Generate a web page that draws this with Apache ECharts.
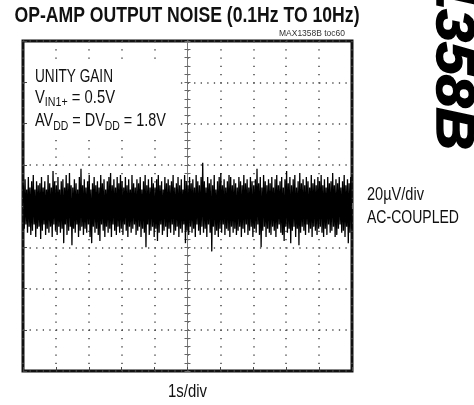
<!DOCTYPE html>
<html>
<head>
<meta charset="utf-8">
<script src="https://cdn.jsdelivr.net/npm/echarts@6/dist/echarts.min.js"></script>
<style>
html,body{margin:0;padding:0;background:#fff;}
#chart{width:474px;height:405px;}
</style>
</head>
<body>
<div id="chart"></div>
<script>
// Time span of trace: 10 divisions of 1 s, shown relative to screen centre (s)
const timeMin = -5;
const timeMax = 5;
// Vertical scale: 8 divisions of 20 µV (µV)
const voltMin = -80;
const voltMax = 80;
const voltStep = 20;

// Upper excursions of the noise trace (µV), read left to right
const noiseUpper = [
  10, 13, 8, 14, 9, 12, 15, 8, 12, 10,
  11, 14, 9, 12, 8, 15, 11, 9, 17, 12,
  10, 14, 8, 12, 13, 9, 15, 11, 16, 10,
  9, 13, 11, 8, 14, 18, 10, 13, 9, 12,
  15, 8, 11, 14, 10, 12, 9, 15, 11, 13,
  8, 12, 14, 16, 10, 13, 9, 14, 11, 15,
  12, 9, 14, 10, 13, 8, 15, 11, 9, 13,
  11, 14, 8, 12, 15, 10, 13, 9, 14, 11,
  9, 13, 15, 10, 12, 8, 14, 11, 13, 10,
  12, 15, 9, 11, 14, 10, 13, 8, 15, 12,
  10, 14, 11, 13, 9, 15, 12, 10, 14, 21,
  12, 9, 14, 11, 13, 10, 15, 8, 12, 14,
  16, 10, 13, 9, 12, 15, 14, 10, 13, 11,
  9, 14, 12, 10, 15, 11, 13, 9, 14, 12,
  10, 13, 18, 11, 14, 9, 15, 12, 10, 13,
  11, 14, 9, 13, 15, 10, 12, 14, 9, 13,
  17, 11, 14, 10, 13, 15, 9, 12, 16, 11,
  13, 10, 14, 12, 9, 15, 11, 13, 10, 14,
  12, 15, 10, 13, 9, 14, 11, 12, 16, 10,
  13, 11, 14, 9, 12, 15, 10, 13, 11, 14
];
// Lower excursions of the noise trace (µV), read left to right
const noiseLower = [
  -11, -9, -13, -10, -14, -12, -9, -15, -11, -10,
  -16, -12, -9, -14, -11, -13, -10, -15, -9, -12,
  -14, -10, -13, -11, -18, -9, -14, -12, -10, -19,
  -11, -13, -9, -15, -12, -10, -14, -11, -13, -9,
  -15, -18, -10, -13, -11, -14, -17, -9, -12, -15,
  -10, -13, -11, -15, -9, -12, -14, -10, -13, -11,
  -14, -9, -12, -15, -10, -13, -11, -9, -14, -12,
  -10, -15, -11, -13, -20, -9, -14, -12, -10, -15,
  -11, -17, -13, -9, -14, -12, -10, -15, -11, -13,
  -9, -14, -12, -10, -15, -11, -13, -9, -18, -12,
  -14, -10, -13, -11, -15, -9, -12, -14, -10, -13,
  -11, -15, -9, -13, -22, -10, -14, -12, -15, -11,
  -13, -9, -14, -11, -12, -15, -10, -13, -11, -14,
  -12, -10, -15, -11, -13, -9, -14, -12, -10, -15,
  -11, -13, -9, -14, -20, -12, -10, -15, -11, -13,
  -14, -10, -12, -15, -11, -9, -13, -14, -17, -10,
  -13, -11, -18, -12, -10, -15, -11, -19, -13, -10,
  -12, -14, -9, -13, -11, -15, -10, -12, -14, -11,
  -10, -13, -15, -11, -14, -9, -13, -12, -10, -15,
  -14, -11, -9, -13, -12, -15, -10, -18, -13, -11
];

const titleText = 'OP-AMP OUTPUT NOISE (0.1Hz TO 10Hz)';
const tocText = 'MAX1358B toc60';
const xScaleText = '1s/div';
const yScaleText = '20µV/div';
const couplingText = 'AC-COUPLED';
const sideText = 'MAX1358B';
const gainLine = [['UNITY GAIN', false]];
const vinLine = [['V', false], ['IN1+', true], [' = 0.5V', false]];
const supplyLine = [['AV', false], ['DD', true], [' = DV', false], ['DD', true], [' = 1.8V', false]];

const FAM = "'Liberation Sans', Arial, sans-serif";
const mctx = document.createElement('canvas').getContext('2d');
function tw(text, size, weight) {
  mctx.font = (weight || 'normal') + ' ' + size + 'px ' + FAM;
  return mctx.measureText(text).width;
}
const ink = '#111';

// a single condensed text line fitted to a measured width
function fitted(text, x, y, size, weight, width, align, fill) {
  const sx = width / tw(text, size, weight);
  return {type: 'text', x: x, y: y, scaleX: sx, z: 10,
    style: {text: text, fontFamily: FAM, fontSize: size, fontWeight: weight || 'normal', fill: fill || ink,
      textAlign: align || 'left', textVerticalAlign: 'middle'}};
}
// a line with subscripts, fitted to a measured width
function subLine(parts, x, y, size, subSize, width) {
  let raw = 0;
  parts.forEach(p => { raw += tw(p[0], p[1] ? subSize : size); });
  const sx = width / raw;
  const out = [];
  let cx = x;
  parts.forEach(p => {
    const s = p[1] ? subSize : size;
    out.push({type: 'text', x: cx, y: p[1] ? y + 4.5 : y, scaleX: sx, z: 10,
      style: {text: p[0], fontFamily: FAM, fontSize: s, fill: ink, textAlign: 'left', textVerticalAlign: 'middle'}});
    cx += tw(p[0], s) * sx;
  });
  return out;
}

// interleave the trace samples
const trace = [];
const n = noiseUpper.length;
for (let i = 0; i < n; i++) {
  trace.push([timeMin + (timeMax - timeMin) * (i + 0.25) / n, noiseUpper[i]]);
  trace.push([timeMin + (timeMax - timeMin) * (i + 0.75) / n, noiseLower[i]]);
}

const chart = echarts.init(document.getElementById('chart'), null, {renderer: 'canvas'});

function centreX(inside) {
  return {
    type: 'value', min: timeMin, max: timeMax, interval: 1, position: 'bottom',
    axisLine: {show: true, onZero: true, onZeroAxisIndex: 0, lineStyle: {color: '#7a7a7a', width: 1}},
    axisTick: {show: true, inside: inside, length: 3, lineStyle: {color: '#666'}},
    minorTick: {show: true, splitNumber: 5, length: 3, lineStyle: {color: '#666'}},
    axisLabel: {show: false}, splitLine: {show: false}
  };
}
function centreY(inside) {
  return {
    type: 'value', min: voltMin, max: voltMax, interval: voltStep, position: 'left',
    axisLine: {show: true, onZero: true, onZeroAxisIndex: 0, lineStyle: {color: '#7a7a7a', width: 1}},
    axisTick: {show: true, inside: inside, length: 3, lineStyle: {color: '#666'}},
    minorTick: {show: true, splitNumber: 5, length: 3, lineStyle: {color: '#666'}},
    axisLabel: {show: false}, splitLine: {show: false}
  };
}

const graphics = [
  // white box behind the in-plot annotation
  {type: 'rect', shape: {x: 29, y: 62, width: 150, height: 74}, style: {fill: '#fff'}, z: 9},
  fitted(titleText, 187, 16, 21.5, 'bold', 345, 'center'),
  fitted(tocText, 345, 34, 9, 'normal', 66, 'right', '#333'),
  fitted(gainLine[0][0], 35, 77, 18, 'normal', 78, 'left'),
  fitted(yScaleText, 367, 195.5, 18, 'normal', 57, 'left'),
  fitted(couplingText, 367, 218.5, 18, 'normal', 92, 'left'),
  fitted(xScaleText, 187.5, 392.5, 18, 'normal', 39, 'center'),
  {type: 'text', x: 452, y: 150, rotation: -Math.PI / 2, scaleX: 1.09,
    style: {text: sideText, fontFamily: FAM, fontWeight: 'bold', fontStyle: 'italic', fontSize: 54,
      fill: '#000', stroke: '#000', lineWidth: 1.5, textAlign: 'right', textVerticalAlign: 'middle'}}
].concat(subLine(vinLine, 35, 98, 18, 13, 80), subLine(supplyLine, 35, 121.5, 18, 13, 131));

const option = {
  animation: false,
  backgroundColor: '#fff',
  grid: {left: 23, top: 41, width: 329, height: 330, show: true, borderColor: '#111', borderWidth: 3, containLabel: false},
  xAxis: [
    {
      type: 'value', min: timeMin, max: timeMax, interval: 1, position: 'bottom',
      axisLine: {show: false, onZero: false},
      axisTick: {show: true, inside: true, length: 4, lineStyle: {color: '#444'}},
      axisLabel: {show: false},
      splitLine: {show: true, lineStyle: {color: '#4a4a4a', width: 1.5, type: [1.3, 6.95]}}
    },
    centreX(true),
    centreX(false)
  ],
  yAxis: [
    {
      type: 'value', min: voltMin, max: voltMax, interval: voltStep, position: 'left',
      axisLine: {show: false, onZero: false},
      axisTick: {show: true, inside: true, length: 4, lineStyle: {color: '#444'}},
      axisLabel: {show: false},
      splitLine: {show: true, lineStyle: {color: '#4a4a4a', width: 1.5, type: [1.3, 5.28]}}
    },
    centreY(true),
    centreY(false)
  ],
  series: [{
    type: 'line', xAxisIndex: 0, yAxisIndex: 0, data: trace,
    showSymbol: false, symbol: 'none', z: 5,
    lineStyle: {color: '#000', width: 1.3}
  }],
  graphic: graphics
};
chart.setOption(option);
</script>
</body>
</html>
